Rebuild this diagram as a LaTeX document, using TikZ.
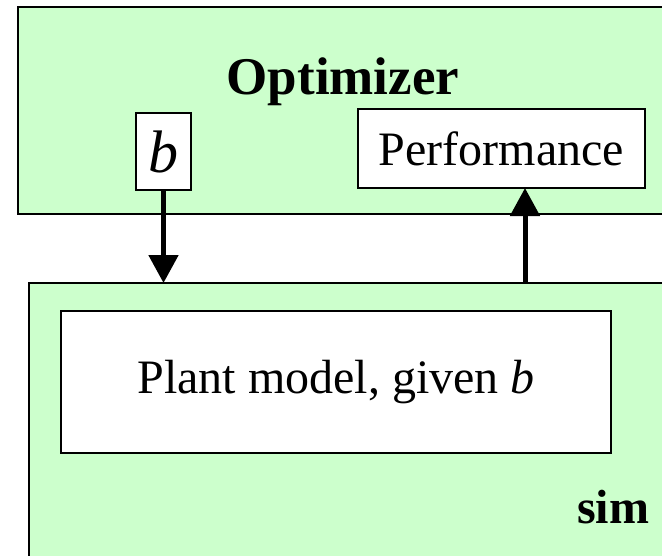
\documentclass[tikz,border=0pt]{standalone}
\usepackage{fontspec}
\setmainfont{Liberation Serif}
\usetikzlibrary{arrows.meta}
\definecolor{panelgreen}{HTML}{CCFFCC}
\begin{document}
\begin{tikzpicture}[x=1pt,y=-1pt,
  panel/.style={draw=black,line width=2pt,fill=panelgreen,inner sep=0pt,outer sep=0pt,anchor=north west},
  whitebox/.style={draw=black,line width=1.8pt,fill=white,inner sep=0pt,outer sep=0pt,
    font=\fontsize{48}{56}\selectfont},
  paneltitle/.style={anchor=base,inner sep=0pt,font=\fontsize{48}{56}\selectfont\bfseries},
  flow/.style={line width=5pt,-{Triangle[length=28pt,width=29pt]}}]
\useasboundingbox (0,0) rectangle (662,555);
\clip (0,0) rectangle (662,555);

% optimizer panel (runs off to the right)
\node[panel,minimum width=700pt,minimum height=207pt] (opt) at (18,7) {};
\node[paneltitle,font=\fontsize{53}{60}\selectfont\bfseries] (opttitle) at (343,94) {Optimizer};
\node[whitebox,minimum width=55pt,minimum height=77pt,font=\fontsize{60}{70}\selectfont] (bbox) at (163.5,151.5) {\textit{b}};
\node[whitebox,minimum width=287pt,minimum height=79pt] (perf) at (501.5,148.5) {Performance};

% simulation panel (runs off to the right and bottom)
\node[panel,minimum width=700pt,minimum height=320pt] (sim) at (29,283) {};
\node[whitebox,minimum width=550pt,minimum height=142pt] (plant) at (336,382) {Plant model, given \textit{b}};
\node[paneltitle] (simtitle) at (613,523) {sim};

% data flow between the panels
\coordinate (upx) at (525,0);
\draw[flow] (bbox.south) -- (bbox.south |- sim.north);
\draw[flow] (sim.north -| upx) -- (perf.south -| upx);
\end{tikzpicture}
\end{document}
